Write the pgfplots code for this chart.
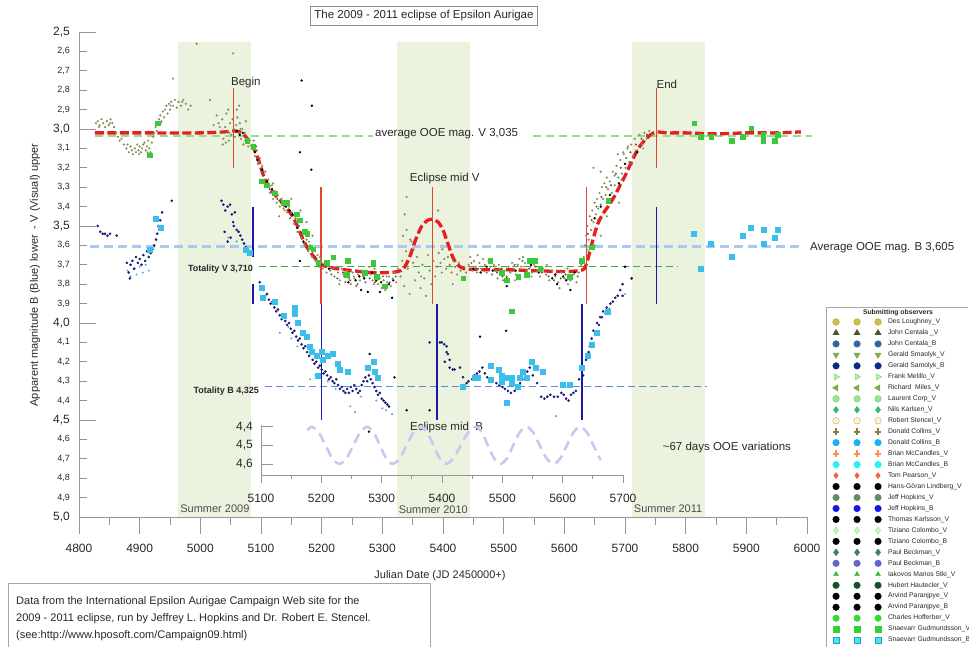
\documentclass[border=0pt]{standalone}
\usepackage{fontspec}
\setmainfont{Liberation Sans}
\usepackage{pgfplots}
\pgfplotsset{compat=1.18}

\definecolor{bandgreen}{RGB}{235,242,221}
\definecolor{redcurve}{RGB}{230,30,30}
\definecolor{redline}{RGB}{226,70,50}
\definecolor{blueline}{RGB}{25,25,170}
\definecolor{avgV}{RGB}{150,222,140}
\definecolor{avgB}{RGB}{172,200,240}
\definecolor{totV}{RGB}{60,175,60}
\definecolor{totB}{RGB}{95,135,230}
\definecolor{sine}{RGB}{200,200,240}
\definecolor{vdot}{RGB}{140,140,90}
\definecolor{vdot2}{RGB}{115,150,110}
\definecolor{vdot3}{RGB}{90,90,70}
\definecolor{gsq}{RGB}{60,200,60}
\definecolor{navy}{RGB}{25,25,120}
\definecolor{cyansq}{RGB}{60,190,235}
\definecolor{lbdot}{RGB}{80,170,210}
\definecolor{axgray}{RGB}{150,150,150}
\definecolor{txt}{RGB}{40,40,40}
% observer colours
\definecolor{o1}{RGB}{200,195,70}
\definecolor{o1d}{RGB}{160,155,50}
\definecolor{o2}{RGB}{80,80,50}
\definecolor{o3}{RGB}{50,100,160}
\definecolor{o4}{RGB}{130,170,90}
\definecolor{o5}{RGB}{15,40,130}
\definecolor{o6}{RGB}{180,240,170}
\definecolor{o6d}{RGB}{120,210,110}
\definecolor{o7}{RGB}{130,170,70}
\definecolor{o8}{RGB}{150,230,150}
\definecolor{o8d}{RGB}{110,200,110}
\definecolor{o9}{RGB}{60,180,130}
\definecolor{o10}{RGB}{255,245,200}
\definecolor{o10d}{RGB}{190,175,120}
\definecolor{o11}{RGB}{130,130,60}
\definecolor{o12}{RGB}{20,180,240}
\definecolor{o13}{RGB}{240,150,70}
\definecolor{o14}{RGB}{40,240,240}
\definecolor{o15}{RGB}{240,100,50}
\definecolor{o17}{RGB}{100,140,100}
\definecolor{o18}{RGB}{20,20,230}
\definecolor{o20}{RGB}{200,245,190}
\definecolor{o20d}{RGB}{150,220,140}
\definecolor{o22}{RGB}{60,130,90}
\definecolor{o23}{RGB}{100,100,200}
\definecolor{o24}{RGB}{60,180,60}
\definecolor{o25}{RGB}{20,80,40}
\definecolor{o28}{RGB}{50,220,50}
\definecolor{o29}{RGB}{50,210,50}
\definecolor{o30}{RGB}{70,230,240}
\definecolor{o30d}{RGB}{40,160,190}

\pgfplotsset{
  magfmt/.style={/pgf/number format/use comma, /pgf/number format/fixed,
    /pgf/number format/fixed zerofill, /pgf/number format/precision=1,
    /pgf/number format/assume math mode=true},
  jdfmt/.style={/pgf/number format/fixed, /pgf/number format/precision=0,
    /pgf/number format/1000 sep={}, /pgf/number format/assume math mode=true},
  obs/.style={only marks, mark size=3.3pt},
}

\begin{document}
\begin{tikzpicture}
\useasboundingbox (0pt,0pt) rectangle (969pt,647pt);

% ---------------- main light curve axis ----------------
\begin{axis}[
  at={(79pt,130pt)}, anchor=south west,
  scale only axis, width=728pt, height=485pt,
  xmin=4800, xmax=6000, ymin=2.5, ymax=5.0, y dir=reverse,
  axis x line*=bottom, axis y line*=left,
  axis line style={draw=axgray, line width=0.7pt},
  clip=false,
  xtick={4800,4900,...,6000}, minor x tick num=1,
  xtick align=outside, ytick align=inside,
  ytick={2.5,3.0,3.5,4.0,4.5,5.0},
  extra y ticks={2.6,2.7,2.8,2.9,3.1,3.2,3.3,3.4,3.6,3.7,3.8,3.9,4.1,4.2,4.3,4.4,4.6,4.7,4.8,4.9},
  extra y tick style={major tick length=8pt, yticklabel style={font=\fontsize{9}{10}\selectfont}},
  major tick length=17pt, minor tick length=8pt,
  tick style={draw=axgray, line width=0.7pt},
  yticklabel style={font=\fontsize{12}{14}\selectfont, text=txt, xshift=-5.7pt, magfmt},
  xticklabel style={font=\fontsize{12}{14}\selectfont, text=txt, yshift=-6.5pt, jdfmt},
  legend cell align=left,
  legend image code/.code={\path[draw=none, fill=none] (-4.5pt,0pt) -- (46.5pt,0pt);
    \draw[#1, only marks] plot coordinates {(0pt,0pt) (21pt,0pt) (42pt,0pt)};},
  legend style={at={(1.0337,0.4098)}, anchor=north west, draw=none, fill=none,
    inner sep=0pt, outer sep=0pt, row sep=3.47pt, column sep=5pt,
    font=\fontsize{6.8}{7}\selectfont, text=txt,
    nodes={inner sep=0.5pt, text height=5pt, text depth=1.5pt}},
]

% summer observing gaps
\addplot[fill=bandgreen, draw=none, forget plot] coordinates {(4963,2.55) (5083,2.55) (5083,5.0) (4963,5.0)} -- cycle;
\addplot[fill=bandgreen, draw=none, forget plot] coordinates {(5324,2.55) (5444,2.55) (5444,5.0) (5324,5.0)} -- cycle;
\addplot[fill=bandgreen, draw=none, forget plot] coordinates {(5711,2.55) (5832,2.55) (5832,5.0) (5711,5.0)} -- cycle;

% reference levels
\addplot[avgV, line width=2pt, dash pattern=on 8pt off 5pt, forget plot] coordinates {(4826,3.035) (5285,3.035)};
\addplot[avgV, line width=2pt, dash pattern=on 8pt off 5pt, forget plot] coordinates {(5549,3.035) (6008,3.035)};
\addplot[avgB, line width=2.6pt, dash pattern=on 9pt off 5pt, forget plot] coordinates {(4818,3.605) (5992,3.605)};
\addplot[totV, line width=1.1pt, dash pattern=on 7pt off 4pt, forget plot] coordinates {(5097,3.71) (5787,3.71)};
\addplot[totB, line width=1.1pt, dash pattern=on 7pt off 4pt, forget plot] coordinates {(5107,4.325) (5835,4.325)};

% V band: assorted observers (small dots)
\addplot[only marks, mark=*, mark size=0.9pt, draw=vdot, fill=vdot, forget plot] coordinates {
(4828,2.97) (4831,2.96) (4834,2.98) (4837,2.95) (4840,2.97) (4843,2.99) (4846,2.96) (4849,2.98)
(4852,2.95) (4855,2.97) (4858,2.99) (4861,3.02) (4864,3.04) (4867,3.06) (4870,3.05) (4874,3.08)
(4878,3.10) (4882,3.12) (4885,3.09) (4887,3.11) (4889,3.13) (4892,3.10) (4894,3.12) (4896,3.08)
(4898,3.11) (4900,3.09) (4902,3.12) (4904,3.10) (4906,3.08) (4908,3.07) (4910,3.11) (4912,3.09)
(4914,3.06) (4916,3.10) (4918,3.12) (4920,3.07) (4922,3.04) (4924,3.02) (4926,2.99) (4928,3.01)
(4930,2.97) (4932,2.95) (4934,2.93) (4936,2.96) (4938,2.91) (4940,2.94) (4942,2.90) (4944,2.88)
(4946,2.92) (4948,2.87) (4950,2.90) (4952,2.86) (4955,2.88) (4958,2.85) (4961,2.89) (4964,2.86)
(4968,2.88) (4972,2.85) (4976,2.87) (4980,2.90) (4984,2.88) (4955,2.74) (4994,2.56) (5016,2.85)
(5054,2.61) (5022,2.98) (5027,2.93) (5030,2.97) (5033,3.02) (5036,2.95) (5038,3.05) (5041,2.99)
(5043,2.92) (5045,3.01) (5047,3.06) (5049,2.97) (5051,3.03) (5053,2.95) (5055,3.00) (5057,3.04)
(5059,2.98) (5061,2.94) (5063,3.02) (5065,2.97) (5067,3.05) (5069,3.00) (5071,3.08) (5073,3.02)
(5075,2.96) (5077,3.05) (5079,3.09) (5037,3.08) (5042,3.07) (5046,2.90) (5060,2.90) (5064,2.88)
(5085,3.10) (5088,3.06) (5090,3.14) (5093,3.11) (5095,3.18) (5098,3.15) (5100,3.22) (5102,3.19)
(5105,3.26) (5107,3.22) (5110,3.30) (5112,3.26) (5115,3.33) (5118,3.29) (5120,3.36) (5123,3.32)
(5126,3.38) (5128,3.34) (5131,3.40) (5134,3.36) (5137,3.41) (5140,3.38) (5143,3.43) (5146,3.40)
(5148,3.46) (5151,3.43) (5154,3.49) (5157,3.46) (5160,3.53) (5163,3.50) (5166,3.56) (5169,3.53)
(5172,3.60) (5175,3.57) (5178,3.63) (5181,3.60) (5184,3.66) (5187,3.63) (5190,3.68) (5193,3.65)
(5196,3.71) (5199,3.67) (5202,3.72) (5205,3.69) (5208,3.74) (5211,3.70) (5214,3.73)
(5120,3.28) (5150,3.36) (5165,3.42) (5175,3.48) (5185,3.55) (5130,3.45)
(5218,3.72) (5221,3.76) (5224,3.71) (5227,3.74) (5230,3.78) (5233,3.72) (5236,3.75) (5239,3.79)
(5242,3.73) (5245,3.77) (5248,3.80) (5251,3.74) (5254,3.77) (5257,3.81) (5260,3.75) (5263,3.78)
(5266,3.73) (5269,3.76) (5272,3.79) (5275,3.74) (5278,3.71) (5281,3.75) (5284,3.78) (5287,3.72)
(5290,3.76) (5293,3.80) (5296,3.77) (5299,3.82) (5302,3.78) (5305,3.83) (5308,3.79) (5311,3.76)
(5314,3.81) (5317,3.77) (5320,3.74) (5323,3.79) (5326,3.72)
(5330,3.76) (5333,3.68) (5336,3.81) (5339,3.63) (5342,3.72) (5345,3.85) (5348,3.58) (5351,3.69)
(5354,3.78) (5357,3.66) (5360,3.74) (5363,3.82) (5366,3.70) (5369,3.77) (5372,3.86) (5375,3.65)
(5378,3.73) (5381,3.80) (5384,3.68) (5387,3.76) (5390,3.71) (5393,3.64) (5396,3.69) (5399,3.62)
(5402,3.67) (5405,3.72) (5408,3.66) (5411,3.70) (5414,3.74) (5417,3.68) (5420,3.71) (5423,3.75)
(5426,3.69) (5429,3.73) (5432,3.77) (5435,3.71) (5438,3.74) (5340,3.35) (5337,3.44) (5340,3.52)
(5346,3.57) (5392,3.42) (5334,3.55)
(5442,3.70) (5445,3.66) (5448,3.73) (5451,3.68) (5454,3.71) (5457,3.65) (5460,3.69) (5463,3.72)
(5466,3.67) (5469,3.70) (5472,3.74) (5475,3.68) (5478,3.71) (5481,3.75) (5484,3.70) (5487,3.73)
(5490,3.77) (5493,3.72) (5496,3.75) (5499,3.78) (5502,3.73) (5505,3.76) (5508,3.71) (5511,3.74)
(5514,3.69) (5517,3.72) (5520,3.75) (5523,3.70) (5526,3.67) (5529,3.71) (5532,3.66) (5535,3.69)
(5538,3.73) (5541,3.68) (5544,3.71) (5547,3.74) (5550,3.70) (5555,3.73) (5560,3.76) (5565,3.72)
(5570,3.75) (5575,3.78) (5580,3.73) (5585,3.76) (5590,3.79) (5595,3.74) (5600,3.77) (5605,3.72)
(5610,3.78) (5615,3.75) (5620,3.79) (5624,3.74) (5628,3.70) (5592,3.82)
(5632,3.66) (5634,3.60) (5636,3.55) (5638,3.50) (5640,3.57) (5642,3.45) (5644,3.52) (5646,3.42)
(5648,3.48) (5650,3.38) (5652,3.44) (5654,3.36) (5656,3.41) (5658,3.33) (5660,3.39) (5662,3.30)
(5664,3.36) (5666,3.28) (5668,3.34) (5670,3.25) (5672,3.31) (5675,3.27) (5678,3.33) (5680,3.22)
(5683,3.29) (5686,3.19) (5689,3.25) (5692,3.16) (5695,3.23) (5698,3.13) (5701,3.20) (5704,3.10)
(5707,3.17) (5710,3.08) (5713,3.14) (5716,3.05) (5720,3.11) (5724,3.03) (5728,3.08) (5732,3.02)
(5736,3.05) (5740,3.01) (5745,3.03) (5648,3.20) (5660,3.22) (5683,3.24) (5688,3.13) (5697,3.12)
(5705,3.09) (5660,3.55) (5670,3.45) (5690,3.38) (5640,3.63) (5650,3.60)
};
\addplot[only marks, mark=*, mark size=0.8pt, draw=vdot2, fill=vdot2, forget plot] coordinates {
(4833,2.99) (4851,2.97) (4880,3.08) (4899,3.13) (4913,3.12) (4935,2.97) (4951,2.88) (4970,2.86)
(5032,2.99) (5048,3.02) (5066,3.00) (5074,3.06) (5097,3.17) (5117,3.31) (5139,3.42) (5159,3.48)
(5179,3.58) (5197,3.66) (5229,3.80) (5253,3.76) (5286,3.80) (5307,3.76) (5352,3.62) (5364,3.76)
(5398,3.74) (5416,3.80) (5456,3.74) (5492,3.70) (5519,3.78) (5546,3.76) (5571,3.70) (5606,3.80)
(5637,3.62) (5655,3.47) (5674,3.37) (5694,3.26) (5712,3.18) (5730,3.10)
};
\addplot[only marks, mark=*, mark size=0.8pt, draw=vdot3, fill=vdot3, forget plot] coordinates {
(5092,3.09) (5104,3.24) (5114,3.31) (5127,3.36) (5138,3.39) (5149,3.44) (5158,3.49) (5168,3.55)
(5177,3.61) (5189,3.66) (5203,3.70) (5216,3.75) (5226,3.77) (5235,3.74) (5247,3.78) (5259,3.80)
(5268,3.75) (5279,3.77) (5288,3.79) (5301,3.76) (5312,3.79) (5322,3.76) (5447,3.69) (5458,3.72)
(5468,3.73) (5479,3.69) (5489,3.74) (5498,3.76) (5509,3.73) (5518,3.70) (5531,3.68) (5542,3.72)
(5553,3.71) (5563,3.74) (5574,3.76) (5583,3.78) (5594,3.77) (5602,3.75) (5613,3.77) (5622,3.76)
(5639,3.54) (5645,3.47) (5653,3.40) (5661,3.35) (5669,3.30) (5677,3.29) (5685,3.23) (5693,3.20)
(5702,3.15) (5709,3.12) (5718,3.08) (5727,3.05) (5736,3.03)
};

% V band: black dots
\addplot[only marks, mark=*, mark size=1pt, draw=black, fill=black, forget plot] coordinates {
(5060,3.01) (5065,3.03) (5070,3.02) (5090,3.12) (5094,3.16) (5102,3.21) (5110,3.27) (5118,3.31)
(5125,3.34) (5134,3.38) (5141,3.40) (5147,3.42) (5152,3.44) (5160,3.51) (5170,3.58) (5198,3.70)
(5212,3.72) (5238,3.76) (5244,3.79) (5256,3.78) (5262,3.76) (5270,3.77) (5283,3.74) (5290,3.78)
(5298,3.79) (5305,3.81) (5311,3.80) (5318,3.78) (5296,3.84) (5265,3.83) (5450,3.72) (5462,3.74)
(5472,3.71) (5482,3.73) (5505,3.77) (5520,3.73) (5545,3.70) (5558,3.74) (5580,3.77) (5585,3.75)
(5598,3.76) (5603,3.78) (5610,3.76) (5617,3.74) (5610,3.83) (5588,3.80) (5650,3.46) (5660,3.40)
(5675,3.34) (5690,3.28) (5700,3.18) (5720,3.12) (5167,2.75) (5184,2.88) (5183,3.21) (5164,3.12)
(5164,3.68) (5316,3.87) (5276,3.84) (5505,3.81) (5700,3.71) (5711,3.77)
(5278,4.56) (5340,4.45) (5378,4.45) (5279,4.16) (5320,4.28) (5461,4.07) (5504,4.04)
};

% V band: green squares
\addplot[only marks, mark=square*, mark size=2.3pt, draw=gsq, fill=gsq, forget plot] coordinates {
(4930,2.97) (4917,3.135) (5077,3.06) (5087,3.09) (5101,3.27) (5109,3.29) (5123,3.33) (5137,3.38)
(5143,3.38) (5159,3.44) (5164,3.47) (5172,3.53) (5176,3.54) (5181,3.61) (5186,3.62) (5194,3.69)
(5208,3.69) (5219,3.66) (5243,3.68) (5241,3.75) (5271,3.74) (5285,3.69) (5291,3.76) (5304,3.81)
(5433,3.77) (5478,3.68) (5497,3.74) (5505,3.78) (5524,3.76) (5538,3.75) (5543,3.68) (5552,3.68)
(5513,3.94) (5560,3.72) (5609,3.76) (5629,3.68) (5645,3.61) (5672,3.37)
(5814,2.97) (5825,3.04) (5842,3.04) (5876,3.06) (5894,3.04) (5908,2.995) (5928,3.06) (5928,3.03)
(5947,3.06) (5952,3.03)
};

% B band: small dots of several observers
\addplot[only marks, mark=*, mark size=0.8pt, draw=lbdot, fill=lbdot, forget plot] coordinates {
(4880,3.73) (4885,3.76) (4890,3.72) (4895,3.75) (4900,3.71) (4905,3.74) (4910,3.70) (4915,3.73)
(5046,3.56) (5060,3.58) (5131,4.05) (5145,4.02) (5150,4.08) (5160,4.12) (5181,4.29) (5190,4.27)
(5210,4.30) (5223,4.34) (5247,4.43) (5255,4.46) (5265,4.38) (5290,4.40) (5300,4.44) (5306,4.45)
(5316,4.47) (5586,4.48) (5700,3.85)
};
\addplot[only marks, mark=*, mark size=1.1pt, draw=navy, fill=navy, forget plot] coordinates {
(4831,3.50) (4835,3.53) (4839,3.54) (4843,3.54) (4847,3.55) (4851,3.54) (4862,3.55) (4879,3.69)
(4882,3.74) (4885,3.70) (4888,3.68) (4891,3.72) (4894,3.66) (4897,3.69) (4900,3.67) (4903,3.70)
(4906,3.65) (4909,3.68) (4912,3.63) (4915,3.66) (4918,3.64) (4921,3.62) (4924,3.60) (4927,3.57)
(4929,3.54) (4931,3.50) (4934,3.47) (4937,3.43) (4953,3.37) (4884,3.77)
(5035,3.37) (5038,3.39) (5041,3.42) (5045,3.40) (5049,3.39) (5052,3.44) (5055,3.50) (5057,3.43)
(5060,3.52) (5063,3.53) (5066,3.55) (5069,3.57) (5072,3.59) (5075,3.61) (5078,3.62) (5081,3.63)
(5040,3.53) (5054,3.48) (5050,3.56) (5045,3.58)
(5098,3.79) (5101,3.81) (5104,3.83) (5107,3.86) (5110,3.85) (5113,3.88) (5116,3.90) (5119,3.89)
(5122,3.92) (5125,3.94) (5128,3.93) (5131,3.96) (5134,3.98) (5137,3.97) (5140,3.99) (5143,4.01)
(5146,4.00) (5149,4.03) (5152,4.05) (5155,4.04) (5158,4.07) (5161,4.09) (5164,4.08) (5167,4.11)
(5170,4.13) (5173,4.12) (5176,4.15) (5179,4.17) (5182,4.16) (5185,4.19) (5188,4.21) (5191,4.20)
(5194,4.23) (5197,4.22) (5200,4.24) (5203,4.26) (5206,4.25) (5209,4.27) (5212,4.29) (5215,4.28)
(5218,4.30) (5221,4.31) (5224,4.29) (5227,4.32) (5230,4.34) (5233,4.33) (5236,4.35) (5239,4.36)
(5242,4.34) (5245,4.36) (5248,4.33) (5251,4.35) (5254,4.32) (5257,4.34) (5260,4.36) (5263,4.35)
(5266,4.32) (5269,4.30) (5272,4.28) (5275,4.30) (5278,4.27) (5281,4.29) (5284,4.31) (5287,4.33)
(5290,4.35) (5293,4.37) (5296,4.36) (5299,4.39) (5302,4.40) (5305,4.41) (5308,4.42) (5311,4.43)
(5378,4.10) (5395,4.10) (5402,4.11) (5406,4.12) (5408,4.16) (5411,4.19) (5416,4.24) (5398,4.10)
(5406,4.15) (5403,4.20) (5411,4.23) (5419,4.24) (5428,4.23) (5433,4.28) (5439,4.31) (5448,4.29)
(5456,4.26) (5465,4.23) (5473,4.28) (5488,4.31) (5498,4.33) (5507,4.35) (5518,4.35) (5527,4.31)
(5535,4.28) (5543,4.23) (5548,4.27) (5555,4.31) (5562,4.38) (5572,4.38) (5583,4.38) (5595,4.36)
(5603,4.39) (5611,4.37) (5619,4.35) (5624,4.29) (5442,4.30) (5452,4.27) (5460,4.25) (5469,4.26)
(5480,4.30) (5493,4.32) (5502,4.34) (5512,4.36) (5522,4.33) (5531,4.29) (5539,4.25) (5567,4.39)
(5577,4.37) (5589,4.38) (5599,4.37) (5607,4.40) (5615,4.36)
(5631,4.27) (5636,4.19) (5642,4.12) (5648,4.04) (5654,4.00) (5659,3.97) (5664,3.94) (5670,3.92)
(5676,3.90) (5680,3.89) (5688,3.86) (5696,3.86) (5696,3.80) (5711,3.77) (5640,4.15) (5645,4.08)
(5651,4.06) (5657,4.01) (5662,3.97) (5668,3.95) (5674,3.93) (5684,3.87) (5692,3.83)
};
\addplot[only marks, mark=square*, mark size=2.5pt, draw=cyansq, fill=cyansq, forget plot] coordinates {
(4917,3.62) (4927,3.46) (4934,3.51) (5082,3.64) (5074,3.62) (5101,3.82) (5103,3.87) (5123,3.89)
(5137,3.96) (5156,3.92) (5156,3.95) (5161,4.00) (5169,4.05) (5175,4.07) (5181,4.12) (5184,4.15)
(5192,4.17) (5200,4.15) (5202,4.19) (5210,4.17) (5219,4.16) (5194,4.27) (5227,4.21) (5230,4.24)
(5243,4.25) (5276,4.23) (5285,4.20) (5288,4.25) (5293,4.28) (5433,4.33) (5453,4.28) (5458,4.28)
(5478,4.22) (5478,4.29) (5491,4.24) (5497,4.27) (5497,4.30) (5505,4.28) (5513,4.28) (5513,4.31)
(5523,4.33) (5527,4.28) (5532,4.25) (5538,4.28) (5547,4.20) (5552,4.23) (5565,4.25) (5505,4.41)
(5598,4.32) (5609,4.32) (5629,4.23) (5639,4.17) (5645,4.11) (5654,4.05) (5672,3.94)
(5814,3.54) (5825,3.72) (5842,3.59) (5876,3.66) (5894,3.55) (5908,3.51) (5928,3.52) (5928,3.59)
(5947,3.56) (5952,3.52)
};

% fitted V light curve
\addplot[redcurve, line width=3.3pt, dash pattern=on 9pt off 3.5pt, smooth, tension=0.4, forget plot] coordinates {
(4826,3.02) (4900,3.02) (5000,3.02) (5040,3.015) (5055,3.01) (5065,3.015) (5072,3.03) (5080,3.06)
(5088,3.10) (5096,3.16) (5103,3.23) (5110,3.28) (5118,3.32) (5126,3.35) (5135,3.38) (5143,3.41)
(5152,3.45) (5160,3.50) (5168,3.56) (5176,3.61) (5185,3.65) (5193,3.68) (5200,3.70) (5210,3.71)
(5225,3.72) (5250,3.73) (5280,3.74) (5310,3.74) (5325,3.735) (5335,3.72) (5345,3.66) (5355,3.57)
(5365,3.50) (5375,3.47) (5383,3.465) (5392,3.48) (5400,3.52) (5408,3.59) (5416,3.66) (5424,3.70)
(5435,3.72) (5460,3.725) (5500,3.725) (5550,3.73) (5600,3.735) (5625,3.73) (5633,3.72) (5638,3.68)
(5643,3.62) (5648,3.56) (5655,3.49) (5663,3.44) (5672,3.40) (5682,3.35) (5692,3.29) (5702,3.23)
(5712,3.16) (5722,3.10) (5732,3.06) (5742,3.03) (5752,3.015) (5770,3.02) (5800,3.02) (5850,3.025)
(5900,3.02) (5950,3.02) (5990,3.015)
};

% contact markers
\addplot[redline, line width=1.3pt, forget plot] coordinates {(5055,2.79) (5055,3.2)};
\addplot[redline, line width=1.3pt, forget plot] coordinates {(5199,3.3) (5199,3.9)};
\addplot[redline, line width=1.3pt, forget plot] coordinates {(5383,3.3) (5383,3.9)};
\addplot[redline, line width=1.3pt, forget plot] coordinates {(5637,3.3) (5637,3.9)};
\addplot[redline, line width=1.3pt, forget plot] coordinates {(5752,2.79) (5752,3.2)};
\addplot[blueline, line width=1.5pt, forget plot] coordinates {(5087,3.4) (5087,3.66)};
\addplot[blueline, line width=1.5pt, forget plot] coordinates {(5087,3.8) (5087,3.9)};
\addplot[blueline, line width=1.5pt, forget plot] coordinates {(5200,3.9) (5200,4.5)};
\addplot[blueline, line width=1.5pt, forget plot] coordinates {(5390,3.9) (5390,4.5)};
\addplot[blueline, line width=1.5pt, forget plot] coordinates {(5629,3.9) (5629,4.5)};
\addplot[blueline, line width=1.5pt, forget plot] coordinates {(5752,3.4) (5752,3.9)};

% annotations
\node[font=\fontsize{11.5}{13}\selectfont, text=txt] at (axis cs:5075,2.758) {Begin};
\node[font=\fontsize{11.5}{13}\selectfont, text=txt] at (axis cs:5769,2.768) {End};
\node[font=\fontsize{11.5}{13}\selectfont, text=txt] at (axis cs:5403,3.253) {Eclipse mid V};
\node[font=\fontsize{11.5}{13}\selectfont, text=txt] at (axis cs:5406,3.025) {average OOE mag. V 3,035};
\node[font=\fontsize{11.5}{13}\selectfont, text=txt, anchor=west, inner sep=0pt] at (axis cs:6005,3.613) {Average OOE mag. B 3,605};
\node[font=\bfseries\fontsize{9}{10}\selectfont, text=txt, anchor=east, inner sep=0pt] at (axis cs:5087,3.722) {Totality V 3,710};
\node[font=\bfseries\fontsize{9}{10}\selectfont, text=txt, anchor=east, inner sep=0pt] at (axis cs:5097,4.35) {Totality B 4,325};
\node[font=\fontsize{11.5}{13}\selectfont, text=txt] at (axis cs:5406,4.541) {Eclipse mid\ \ B};
\node[font=\fontsize{11.5}{13}\selectfont, text=txt] at (axis cs:5868,4.644) {\textasciitilde 67 days OOE variations};
\node[font=\fontsize{11}{13}\selectfont, text=black!70] at (axis cs:5024,4.959) {Summer 2009};
\node[font=\fontsize{11}{13}\selectfont, text=black!70] at (axis cs:5384,4.964) {Summer 2010};
\node[font=\fontsize{11}{13}\selectfont, text=black!70] at (axis cs:5771,4.959) {Summer 2011};

% observers
\addlegendimage{obs, mark=*, draw=o1d, fill=o1}
\addlegendentry{Des Loughney\_V}
\addlegendimage{obs, mark=triangle*, mark size=3.6pt, draw=o2, fill=o2}
\addlegendentry{John Centala \_V}
\addlegendimage{obs, mark=*, draw=o3, fill=o3}
\addlegendentry{John Centala\_B}
\addlegendimage{obs, mark=triangle*, mark size=3.6pt, mark options={rotate=180}, draw=o4, fill=o4}
\addlegendentry{Gerald Smaolyk\_V}
\addlegendimage{obs, mark=*, draw=o5, fill=o5}
\addlegendentry{Gerald Samolyk\_B}
\addlegendimage{obs, mark=triangle*, mark size=3.6pt, mark options={rotate=-90}, draw=o6d, fill=o6}
\addlegendentry{Frank Melillo\_V}
\addlegendimage{obs, mark=triangle*, mark size=3.6pt, mark options={rotate=90}, draw=o7, fill=o7}
\addlegendentry{Richard\ \ Miles\_V}
\addlegendimage{obs, mark=*, draw=o8d, fill=o8}
\addlegendentry{Laurent Corp\_V}
\addlegendimage{obs, mark=diamond*, mark size=3.4pt, draw=o9, fill=o9}
\addlegendentry{Nils Karlsen\_V}
\addlegendimage{obs, mark=*, draw=o10d, fill=o10}
\addlegendentry{Robert Stencel\_V}
\addlegendimage{obs, mark=+, mark size=3.4pt, mark options={line width=2.2pt}, draw=o11}
\addlegendentry{Donald Collins\_V}
\addlegendimage{obs, mark=*, draw=o12, fill=o12}
\addlegendentry{Donald Collins\_B}
\addlegendimage{obs, mark=+, mark size=3.4pt, mark options={line width=2.2pt}, draw=o13}
\addlegendentry{Brian McCandles\_V}
\addlegendimage{obs, mark=*, draw=o14, fill=o14}
\addlegendentry{Brian McCandles\_B}
\addlegendimage{obs, mark=diamond*, mark size=3pt, draw=o15, fill=o15}
\addlegendentry{Tom Pearson\_V}
\addlegendimage{obs, mark=*, draw=black, fill=black}
\addlegendentry{Hans-Göran Lindberg\_V}
\addlegendimage{obs, mark=*, draw=o17, fill=o17}
\addlegendentry{Jeff Hopkins\_V}
\addlegendimage{obs, mark=*, draw=o18, fill=o18}
\addlegendentry{Jeff Hopkins\_B}
\addlegendimage{obs, mark=*, draw=black, fill=black}
\addlegendentry{Thomas Karlsson\_V}
\addlegendimage{obs, mark=diamond*, mark size=3.4pt, draw=o20d, fill=o20}
\addlegendentry{Tiziano Colombo\_V}
\addlegendimage{obs, mark=*, draw=black, fill=black}
\addlegendentry{Tiziano Colombo\_B}
\addlegendimage{obs, mark=diamond*, mark size=3.4pt, draw=o22, fill=o22}
\addlegendentry{Paul Beckman\_V}
\addlegendimage{obs, mark=*, draw=o23, fill=o23}
\addlegendentry{Paul Beckman\_B}
\addlegendimage{obs, mark=triangle*, mark size=2.8pt, draw=o24, fill=o24}
\addlegendentry{Iakovos Marios Stki\_V}
\addlegendimage{obs, mark=*, draw=o25, fill=o25}
\addlegendentry{Hubert Hautecler\_V}
\addlegendimage{obs, mark=*, draw=black, fill=black}
\addlegendentry{Arvind Paranjpye\_V}
\addlegendimage{obs, mark=*, draw=black, fill=black}
\addlegendentry{Arvind Paranjpye\_B}
\addlegendimage{obs, mark=*, draw=o28, fill=o28}
\addlegendentry{Charles Hofferber\_V}
\addlegendimage{obs, mark=square*, mark size=3.2pt, draw=o29, fill=o29}
\addlegendentry{Snaevarr Gudmundsson\_V}
\addlegendimage{obs, mark=square*, mark size=3.2pt, draw=o30d, fill=o30}
\addlegendentry{Snaevarr Gudmundsson\_B}
\end{axis}

% ---------------- inset: out-of-eclipse variation ----------------
\begin{axis}[
  at={(261pt,172pt)}, anchor=south west,
  scale only axis, width=362pt, height=50pt,
  xmin=5100, xmax=5700, ymin=4.39, ymax=4.66, y dir=reverse,
  axis x line*=bottom, axis y line*=left,
  axis line style={draw=axgray, line width=0.7pt},
  clip=false,
  xtick={5100,5200,...,5700}, minor x tick num=1,
  ytick=\empty, extra y ticks={4.4,4.5,4.6},
  extra y tick style={major tick length=12pt},
  xtick align=outside, ytick align=inside,
  major tick length=8pt, minor tick length=4pt,
  tick style={draw=axgray, line width=0.7pt},
  yticklabel style={font=\fontsize{12}{14}\selectfont, text=txt, xshift=-4.7pt, magfmt},
  xticklabel style={font=\fontsize{12}{14}\selectfont, text=txt, yshift=-7.7pt, jdfmt},
]
\addplot[sine, line width=2.6pt, dash pattern=on 10pt off 6pt, smooth] coordinates {
(5177,4.42) (5184,4.40) (5195.5,4.429) (5207,4.50) (5218.5,4.571) (5230,4.60) (5241.5,4.571)
(5253,4.50) (5264.5,4.429) (5276,4.40) (5286.5,4.429) (5297,4.50) (5307.5,4.571) (5318,4.60)
(5330,4.571) (5341,4.50) (5353,4.429) (5365,4.40) (5375.5,4.429) (5386,4.50) (5396.5,4.571)
(5407,4.60) (5419,4.571) (5431,4.50) (5443.5,4.429) (5456,4.40) (5466,4.429) (5476,4.50)
(5486.5,4.571) (5497,4.60) (5507.5,4.571) (5518,4.50) (5529,4.429) (5540,4.40) (5551,4.429)
(5562,4.50) (5573.5,4.571) (5585,4.60) (5596,4.571) (5607,4.50) (5618,4.429) (5629,4.40)
(5640,4.429) (5651,4.50) (5663,4.58)
};
\end{axis}

% ---------------- title, axis titles, boxes ----------------
\node[draw=black!45, line width=0.6pt, fill=white, inner xsep=4pt, inner ysep=4pt,
      font=\fontsize{11.5}{13}\selectfont, text=txt] at (424pt,631pt) {The 2009 - 2011 eclipse of Epsilon Aurigae};
\node[rotate=90, font=\fontsize{11}{13}\selectfont, text=txt] at (35pt,372pt)
  {Apparent magnitude B (Blue) lower\ \ - V (Visual) upper};
\node[font=\fontsize{11}{13}\selectfont, text=txt] at (440pt,71pt) {Julian Date (JD 2450000+)};

\draw[black!35, line width=0.7pt] (968pt,340pt) -- (826pt,340pt) -- (826pt,0pt);
\node[font=\bfseries\fontsize{6.8}{8}\selectfont, text=txt] at (898pt,334.5pt) {Submitting observers};

\draw[black!35, line width=0.7pt] (8pt,0pt) -- (8pt,64pt) -- (430pt,64pt) -- (430pt,0pt);
\node[anchor=base west, inner sep=0pt, font=\fontsize{11}{13}\selectfont, text=txt] at (16pt,42pt) {Data from the International Epsilon Aurigae Campaign Web site for the};
\node[anchor=base west, inner sep=0pt, font=\fontsize{11}{13}\selectfont, text=txt] at (16pt,25pt) {2009 - 2011 eclipse, run by Jeffrey L. Hopkins and Dr. Robert E. Stencel.};
\node[anchor=base west, inner sep=0pt, font=\fontsize{11}{13}\selectfont, text=txt] at (16pt,8pt) {(see:http://www.hposoft.com/Campaign09.html)};
\end{tikzpicture}
\end{document}
